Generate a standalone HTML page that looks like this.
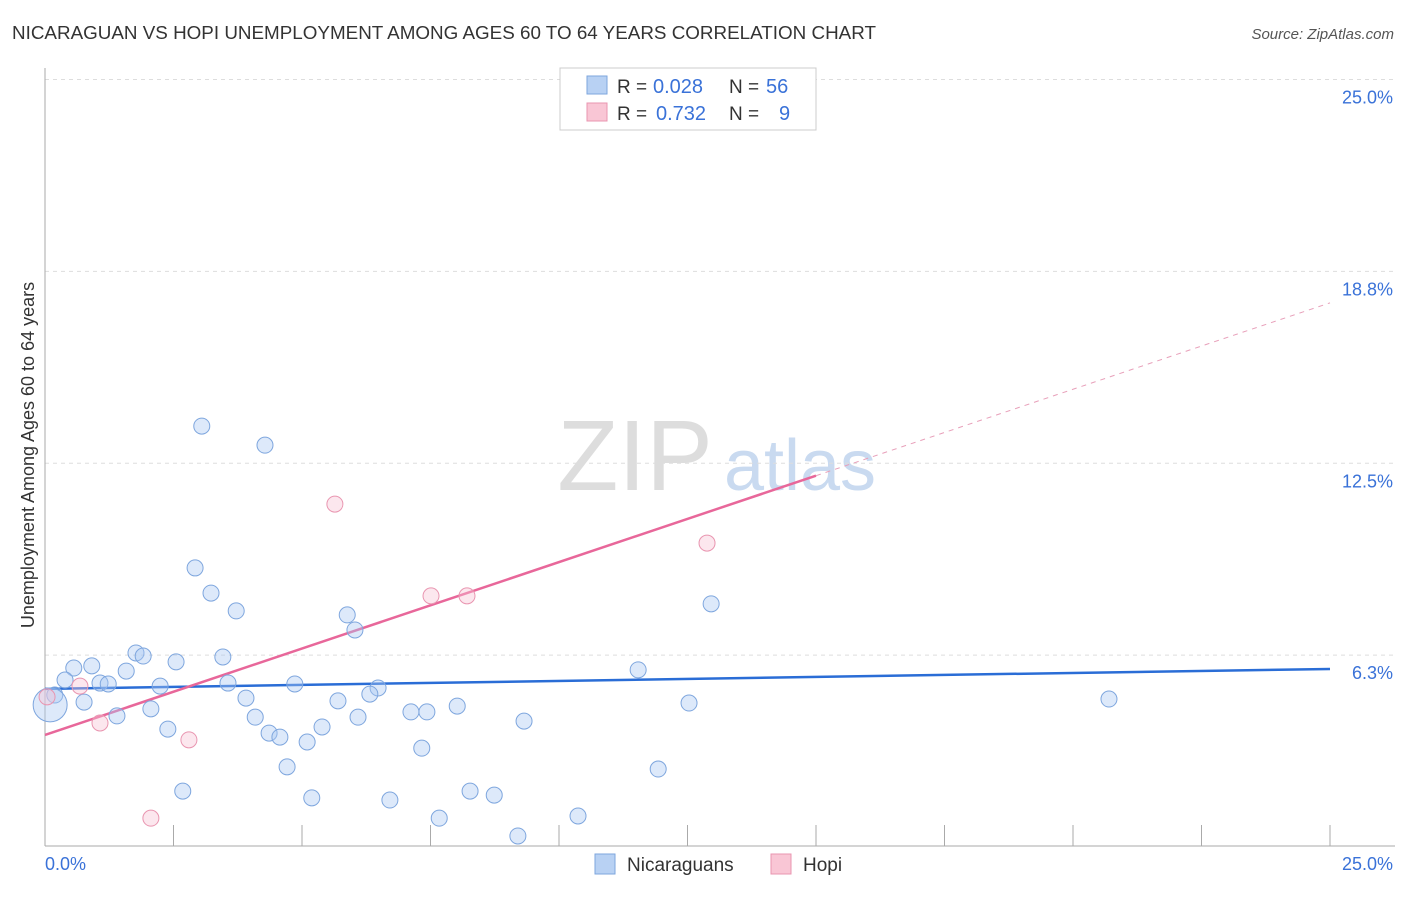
<!DOCTYPE html>
<html><head><meta charset="utf-8"><style>
body{margin:0;background:#fff;font-family:"Liberation Sans",sans-serif}
svg text{font-family:"Liberation Sans",sans-serif}
</style></head><body>
<svg id="c" width="1406" height="892">
<text x="12" y="39" font-size="18" fill="#333" textLength="864" lengthAdjust="spacingAndGlyphs">NICARAGUAN VS HOPI UNEMPLOYMENT AMONG AGES 60 TO 64 YEARS CORRELATION CHART</text>
<text x="1394" y="39" font-size="15" fill="#555" text-anchor="end" font-style="italic">Source: ZipAtlas.com</text>
<text x="34" y="455" font-size="18" fill="#333" text-anchor="middle" transform="rotate(-90 34 455)">Unemployment Among Ages 60 to 64 years</text>
<g><text x="635" y="490" font-size="100" fill="#ddd" font-family="Liberation Serif" text-anchor="middle">ZIP</text><text x="800" y="490" font-size="72" fill="#c9daf0" text-anchor="middle">atlas</text></g>
<g id="grid"></g><g id="axes"></g><g id="lines"></g><g id="pts"></g>
<g>
<rect x="560" y="68" width="256" height="62" fill="#fff" stroke="#ccc"/>
<rect x="587" y="76" width="20" height="18" fill="#b8d1f3" stroke="#7ea6de"/>
<rect x="587" y="103" width="20" height="18" fill="#f9c6d5" stroke="#e995b0"/>
<text x="617" y="93" font-size="19" fill="#333">R =</text><text x="653" y="93" font-size="20" fill="#3a72d8">0.028</text>
<text x="729" y="93" font-size="19" fill="#333">N =</text><text x="766" y="93" font-size="20" fill="#3a72d8">56</text>
<text x="617" y="120" font-size="19" fill="#333">R =</text><text x="656" y="120" font-size="20" fill="#3a72d8">0.732</text>
<text x="729" y="120" font-size="19" fill="#333">N =</text><text x="779" y="120" font-size="20" fill="#3a72d8">9</text>
</g>
<g>
<rect x="595" y="854" width="20" height="20" fill="#b8d1f3" stroke="#7ea6de"/><text x="627" y="871" font-size="19" fill="#333">Nicaraguans</text>
<rect x="771" y="854" width="20" height="20" fill="#f9c6d5" stroke="#e995b0"/><text x="803" y="871" font-size="19" fill="#333">Hopi</text>
</g>
</svg>
<script>
const yTicks=[6.25,12.5,18.75,25];
const yTickLabels=["6.3%","12.5%","18.8%","25.0%"];
const xTickVals=[0,2.5,5,7.5,10,12.5,15,17.5,20,22.5,25];
const blueX=[13.56,3.05,4.28,2.92,3.23,3.72,5.88,6.03,12.96,1.77,1.91,0.56,0.91,1.58,2.55,3.46,11.54,0.39,1.07,1.23,2.24,3.56,4.86,6.48,6.32,0.19,0.76,3.91,5.70,12.53,20.70,2.06,1.40,4.09,6.09,7.12,7.43,8.02,9.32,2.39,4.36,4.57,5.39,5.10,7.33,4.71,11.93,2.68,5.19,6.71,8.27,8.74,7.67,10.37,9.20,0.10];
const blueY=[24.98,13.71,13.09,9.09,8.27,7.69,7.56,7.07,7.92,6.32,6.22,5.83,5.90,5.73,6.03,6.19,5.77,5.44,5.34,5.31,5.24,5.34,5.31,5.18,4.98,4.95,4.72,4.85,4.76,4.69,4.82,4.50,4.27,4.23,4.23,4.40,4.40,4.59,4.10,3.84,3.71,3.58,3.91,3.42,3.22,2.61,2.54,1.82,1.60,1.53,1.82,1.69,0.94,1.01,0.36,4.63];
const pinkX=[0.04,0.68,1.07,2.80,2.06,5.64,7.51,8.21,12.88];
const pinkY=[4.89,5.24,4.04,3.49,0.94,11.17,8.18,8.18,9.90];
const blueFit=[5.15,5.80];
const pinkFit=[3.65,0.563];
const X=v=>45+v*51.4, Y=v=>847-v*30.7;
const NS="http://www.w3.org/2000/svg";
function mk(t,a,p){const e=document.createElementNS(NS,t);for(const k in a)e.setAttribute(k,a[k]);p.appendChild(e);return e;}
const grid=document.getElementById('grid'),axes=document.getElementById('axes'),lines=document.getElementById('lines'),pts=document.getElementById('pts');
yTicks.forEach((v,i)=>{
 const l=mk('line',{x1:45,x2:1395,y1:Y(v),y2:Y(v),stroke:'#ddd','stroke-dasharray':'4,4'},grid);
 
 
 const t=mk('text',{x:1393,y:Y(v)+24,'font-size':18,fill:'#3a72d8','text-anchor':'end'},axes);
 t.textContent=yTickLabels[i];
 
 
});
mk('line',{x1:45,x2:45,y1:68,y2:846,stroke:'#aaa'},axes);
mk('line',{x1:45,x2:1395,y1:846,y2:846,stroke:'#aaa'},axes);
xTickVals.forEach(v=>{const t=mk('line',{x1:X(v),x2:X(v),y1:825,y2:846,stroke:'#aaa'},axes);
 
 });
let t0=mk('text',{x:45,y:870,'font-size':18,fill:'#3a72d8'},axes);t0.textContent='0.0%';


let t1=mk('text',{x:1393,y:870,'font-size':18,fill:'#3a72d8','text-anchor':'end'},axes);t1.textContent='25.0%';


blueX.forEach((x,i)=>{const c=mk('circle',{cx:X(x),cy:Y(blueY[i]),r:i==blueX.length-1?17:8,fill:'rgba(170,200,242,0.4)',stroke:'#7ea6de','stroke-width':1},pts);
 
 });
pinkX.forEach((x,i)=>{const c=mk('circle',{cx:X(x),cy:Y(pinkY[i]),r:8,fill:'rgba(248,195,212,0.4)',stroke:'#e995b0','stroke-width':1},pts);
 
 });
const bl=mk('line',{x1:X(0),y1:Y(blueFit[0]),x2:X(25),y2:Y(blueFit[1]),stroke:'#2a6dd6','stroke-width':2.5},lines);


const pe=15;
const pl=mk('line',{x1:X(0),y1:Y(pinkFit[0]),x2:X(pe),y2:Y(pinkFit[0]+pinkFit[1]*pe),stroke:'#e8679a','stroke-width':2.5},lines);


const pd=mk('line',{x1:X(pe),y1:Y(pinkFit[0]+pinkFit[1]*pe),x2:X(25),y2:Y(pinkFit[0]+pinkFit[1]*25),stroke:'#e8a0ba','stroke-width':1,'stroke-dasharray':'5,5'},lines);


</script>
</body></html>
